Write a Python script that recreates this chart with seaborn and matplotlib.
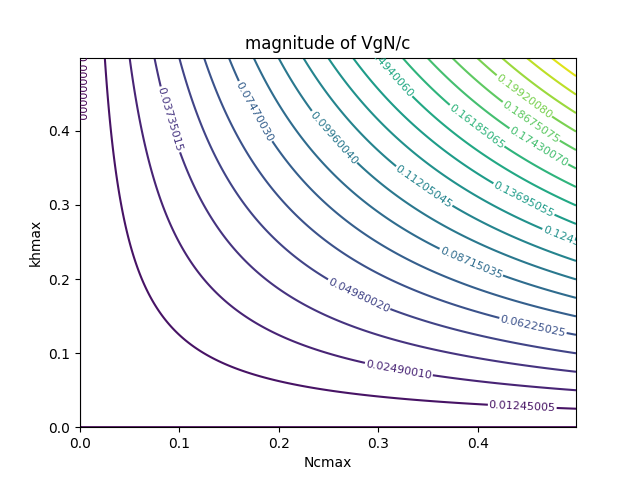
import numpy as np
import matplotlib
matplotlib.use('Agg')
import matplotlib.pyplot as plt
import seaborn as sns

# grid axes (Ncmax and khmax) and contour levels
nc_max = np.arange(0, 0.5, 0.001)
kh_max = np.arange(0, 0.5, 0.001)
n_levels = 21

# magnitude of VgN/c on the grid
NC, KH = np.meshgrid(nc_max, kh_max)
vgn = NC * KH
levels = np.linspace(0, vgn.max(), n_levels)

# where the contour labels sit (Ncmax, khmax)
label_spots = [
    (0.003, 0.459), (0.445, 0.030), (0.321, 0.080), (0.092, 0.416),
    (0.281, 0.180), (0.456, 0.139), (0.177, 0.427), (0.394, 0.224),
    (0.256, 0.392), (0.347, 0.327), (0.498, 0.253), (0.447, 0.309),
    (0.310, 0.480), (0.400, 0.408), (0.462, 0.380), (0.455, 0.415),
    (0.448, 0.449),
]

cmap = sns.color_palette('viridis', as_cmap=True)

fig, ax = plt.subplots(figsize=(6.4, 4.8), dpi=100)
cs = ax.contour(NC, KH, vgn, levels=levels, cmap=cmap)
ax.clabel(cs, inline=True, fontsize=8, fmt='%.8f', manual=label_spots,
          inline_spacing=1)
ax.set_title('magnitude of VgN/c')
ax.set_xlabel('Ncmax')
ax.set_ylabel('khmax')

fig.savefig('out.png')
